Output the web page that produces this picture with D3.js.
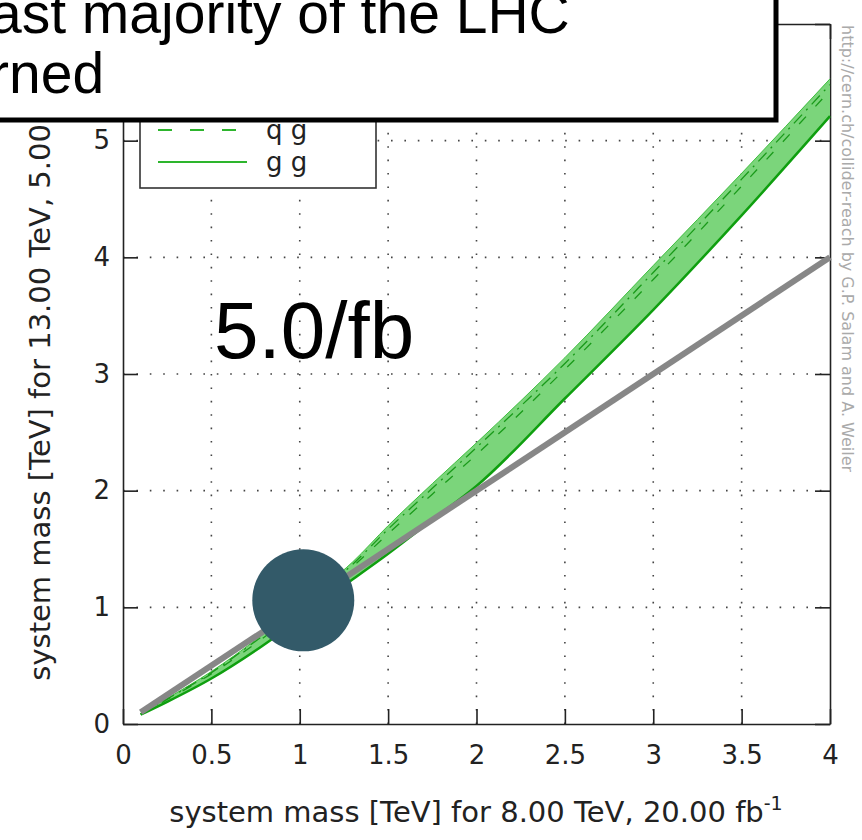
<!DOCTYPE html>
<html>
<head>
<meta charset="utf-8">
<script src="https://cdn.jsdelivr.net/npm/d3@7"></script>
<style>
  body { margin: 0; background: #fff; }
  svg { display: block; }
  .tick text { font-family: "DejaVu Sans", sans-serif; font-size: 26px; fill: #222; }
</style>
</head>
<body>
<svg width="862" height="840"></svg>
<script>
// system mass reach, 8 TeV (x) vs 13 TeV (y)
var massX   = [0.1, 0.25, 0.5, 0.75, 1.0, 1.3, 1.5, 1.75, 2.0, 2.5, 3.0, 3.5, 4.0];
var bandTop = [0.09, 0.22, 0.45, 0.72, 1.02, 1.39, 1.70, 2.06, 2.41, 3.14, 3.93, 4.72, 5.53];
var ggLine  = [0.08, 0.19, 0.39, 0.63, 0.90, 1.24, 1.46, 1.75, 2.04, 2.79, 3.55, 4.36, 5.21];
var qgLine  = [0.085, 0.21, 0.43, 0.69, 0.98, 1.35, 1.63, 1.97, 2.31, 3.04, 3.81, 4.61, 5.43];
var qqLine  = [0.088, 0.215, 0.44, 0.71, 1.00, 1.37, 1.67, 2.02, 2.37, 3.09, 3.87, 4.67, 5.48];
var diagX   = [0.1, 4.0];
var diagY   = [0.1, 4.0];
var xTicks  = [0, 0.5, 1, 1.5, 2, 2.5, 3, 3.5, 4];
var yTicks  = [0, 1, 2, 3, 4, 5, 6];
var marker  = [1.02, 1.06];
var legendNames = ["q q\u0304", "q g", "g g"];

var svg = d3.select("svg");

var x = d3.scaleLinear().domain([0, 4]).range([123, 830]);
var y = d3.scaleLinear().domain([0, 6]).range([724, 24]);

// dotted grid
var grid = svg.append("g")
  .attr("stroke", "#444")
  .attr("stroke-width", 1.6)
  .attr("stroke-dasharray", "1.6,11.8");
grid.selectAll(".gx").data(xTicks.slice(1, -1)).enter().append("line")
  .attr("x1", function(d){ return x(d); }).attr("x2", function(d){ return x(d); })
  .attr("y1", y(0)).attr("y2", y(6));
grid.selectAll(".gy").data(yTicks.slice(1, -1)).enter().append("line")
  .attr("y1", function(d){ return y(d); }).attr("y2", function(d){ return y(d); })
  .attr("x1", x(0)).attr("x2", x(4));

// axes, ticks pointing inward, mirrored on top/right
var fmt = function(d){ return String(d); };
svg.append("g").attr("transform", "translate(0," + y(0) + ")")
  .call(d3.axisBottom(x).tickValues(xTicks).tickFormat(fmt).tickSizeInner(-15).tickSizeOuter(0).tickPadding(22));
svg.append("g").attr("transform", "translate(" + x(0) + ",0)")
  .call(d3.axisLeft(y).tickValues(yTicks).tickFormat(fmt).tickSizeInner(-15).tickSizeOuter(0).tickPadding(13));
svg.append("g").attr("transform", "translate(0," + y(6) + ")")
  .call(d3.axisTop(x).tickValues(xTicks).tickFormat("").tickSizeInner(-15).tickSizeOuter(0));
svg.append("g").attr("transform", "translate(" + x(4) + ",0)")
  .call(d3.axisRight(y).tickValues(yTicks).tickFormat("").tickSizeInner(-15).tickSizeOuter(0));
svg.selectAll(".domain").attr("stroke", "#222").attr("stroke-width", 1.6);
svg.selectAll(".tick line").attr("stroke", "#222").attr("stroke-width", 1.6);

// axis titles
var xt = svg.append("text")
  .attr("x", 476).attr("y", 822)
  .attr("text-anchor", "middle")
  .attr("font-family", "DejaVu Sans").attr("font-size", 29).attr("fill", "#222")
  .text("system mass [TeV] for 8.00 TeV, 20.00 fb");
xt.append("tspan").attr("dy", -12).attr("font-size", 19).text("-1");

var yt = svg.append("text")
  .attr("transform", "translate(50," + y(3) + ") rotate(-90)")
  .attr("text-anchor", "middle")
  .attr("font-family", "DejaVu Sans").attr("font-size", 29).attr("fill", "#222")
  .text("system mass [TeV] for 13.00 TeV, 5.00 fb");
yt.append("tspan").attr("dy", -12).attr("font-size", 19).text("-1");

// band + lines
var rows = massX.map(function(m, i){
  return { m: m, top: bandTop[i], gg: ggLine[i], qg: qgLine[i], qq: qqLine[i] };
});

var area = d3.area().curve(d3.curveMonotoneX)
  .x(function(d){ return x(d.m); })
  .y0(function(d){ return y(d.gg); })
  .y1(function(d){ return y(d.top); });

svg.append("path").datum(rows)
  .attr("d", area)
  .attr("fill", "#7bd57b");

function lineFor(key) {
  return d3.line().curve(d3.curveMonotoneX)
    .x(function(d){ return x(d.m); })
    .y(function(d){ return y(d[key]); });
}

svg.append("path").datum(rows).attr("d", lineFor("top"))
  .attr("fill", "none").attr("stroke", "#3fbf3f").attr("stroke-width", 1);
svg.append("path").datum(rows).attr("d", lineFor("qq"))
  .attr("fill", "none").attr("stroke", "#1a9a1a").attr("stroke-width", 1.3)
  .attr("stroke-dasharray", "12,6,2,6");
svg.append("path").datum(rows).attr("d", lineFor("qg"))
  .attr("fill", "none").attr("stroke", "#1a9a1a").attr("stroke-width", 1.3)
  .attr("stroke-dasharray", "10,14");
svg.append("path").datum(rows).attr("d", lineFor("gg"))
  .attr("fill", "none").attr("stroke", "#0f9f0f").attr("stroke-width", 2.5);

// diagonal reference
svg.append("line")
  .attr("x1", x(diagX[0])).attr("y1", y(diagY[0]))
  .attr("x2", x(diagX[1])).attr("y2", y(diagY[1]))
  .attr("stroke", "#878787").attr("stroke-width", 6);

// legend
var leg = svg.append("g");
leg.append("rect")
  .attr("x", 140).attr("y", 30).attr("width", 236).attr("height", 158)
  .attr("fill", "#fff").attr("stroke", "#333").attr("stroke-width", 1.6);
var dashes = ["12,6,2,6", "14,18", null];
legendNames.forEach(function(name, i){
  var ly = 98 + i * 32;
  leg.append("line")
    .attr("x1", 158).attr("x2", 247).attr("y1", ly).attr("y2", ly)
    .attr("stroke", "#2db52d").attr("stroke-width", 2)
    .attr("stroke-dasharray", dashes[i]);
  leg.append("text")
    .attr("x", 266).attr("y", ly + 9)
    .attr("font-family", "DejaVu Sans").attr("font-size", 26).attr("fill", "#222")
    .text(name);
});

// highlighted point
svg.append("circle")
  .attr("cx", x(marker[0])).attr("cy", y(marker[1]))
  .attr("r", 51)
  .attr("fill", "#335a69");

// luminosity annotation
svg.append("text")
  .attr("x", 214).attr("y", 358)
  .attr("font-family", "Liberation Sans, Arial, sans-serif").attr("font-size", 80)
  .attr("fill", "#000")
  .text("5.0/fb");

// overlaid caption box
svg.append("rect")
  .attr("x", -20).attr("y", -20).attr("width", 796).attr("height", 140)
  .attr("fill", "#fff").attr("stroke", "#000").attr("stroke-width", 5);
svg.append("text")
  .attr("x", -10).attr("y", 33)
  .attr("font-family", "Liberation Sans, Arial, sans-serif").attr("font-size", 57)
  .text("ast majority of the LHC");
svg.append("text")
  .attr("x", -10).attr("y", 93)
  .attr("font-family", "Liberation Sans, Arial, sans-serif").attr("font-size", 57)
  .text("rned");

// credit
svg.append("text")
  .attr("transform", "translate(842,25) rotate(90)")
  .attr("font-family", "DejaVu Sans").attr("font-size", 16).attr("fill", "#aaa")
  .text("http://cern.ch/collider-reach by G.P. Salam and A. Weiler");
</script>
</body>
</html>
